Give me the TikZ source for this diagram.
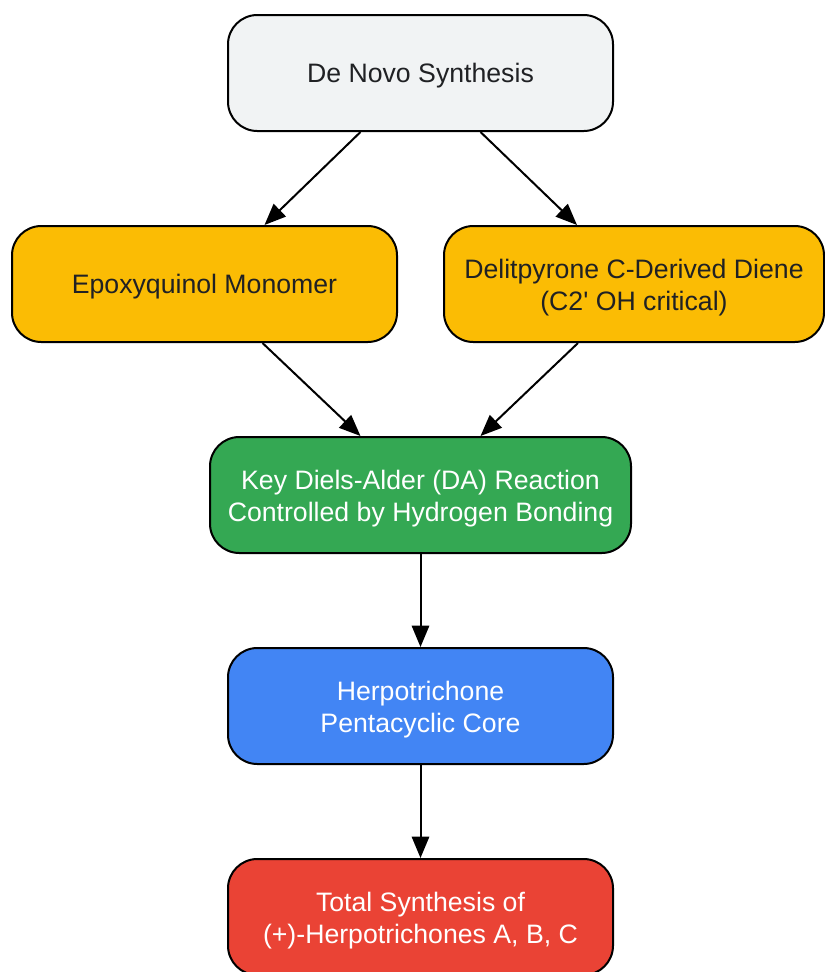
\documentclass[tikz,border=0pt]{standalone}
\usepackage{fontspec}
\setmainfont{Liberation Sans}[Ligatures=TeXOff]
\usetikzlibrary{arrows.meta,calc}

\definecolor{startgray}{HTML}{F1F3F4}
\definecolor{inputyellow}{HTML}{FBBC04}
\definecolor{keygreen}{HTML}{34A853}
\definecolor{coreblue}{HTML}{4285F4}
\definecolor{goalred}{HTML}{EA4335}
\definecolor{darktext}{HTML}{202124}

\begin{document}
\begin{tikzpicture}[x=0.75pt, y=-0.75pt,
    box/.style={draw=black, line width=1.5pt, rounded corners=22pt, minimum height=116*0.75pt, align=center, text=darktext, font=\fontsize{20}{24}\selectfont, text height=19pt},
    twolines/.style={text height=44pt},
    light/.style={box, twolines, text=white},
    link/.style={-{Triangle[length=16pt,width=13pt]}, line width=1.5pt}]
      \useasboundingbox (0,0) rectangle (825,972);
      % Nodes
      \node[box, fill=startgray, minimum width=385*0.75pt] (denovo) at (420.5, 73) {De Novo Synthesis};
      \node[box, fill=inputyellow, minimum width=385*0.75pt] (epoxy) at (204.5, 284) {Epoxyquinol Monomer};
      \node[box, twolines, fill=inputyellow, minimum width=380*0.75pt] (diene) at (634, 284) {Delitpyrone C-Derived Diene\\(C2' OH critical)};
      \node[light, fill=keygreen, minimum width=421*0.75pt] (da) at (420.5, 495) {Key Diels-Alder (DA) Reaction\\Controlled by Hydrogen Bonding};
      \node[light, fill=coreblue, minimum width=385*0.75pt] (core) at (420.5, 706) {Herpotrichone\\Pentacyclic Core};
      \node[light, fill=goalred, minimum width=385*0.75pt] (total) at (420.5, 917) {Total Synthesis of\\(+)-Herpotrichones A, B, C};

      % Edges
      \draw[link] ($(denovo.south)+(-60,0)$) -- ($(epoxy.north)+(60,0)$);
      \draw[link] ($(denovo.south)+(60,0)$) -- ($(diene.north)+(-57,0)$);
      \draw[link] ($(epoxy.south)+(58,0)$) -- ($(da.north)+(-60,0)$);
      \draw[link] ($(diene.south)+(-56,0)$) -- ($(da.north)+(60,0)$);
      \draw[link] (da) -- (core);
      \draw[link] (core) -- (total);
\end{tikzpicture}
\end{document}
